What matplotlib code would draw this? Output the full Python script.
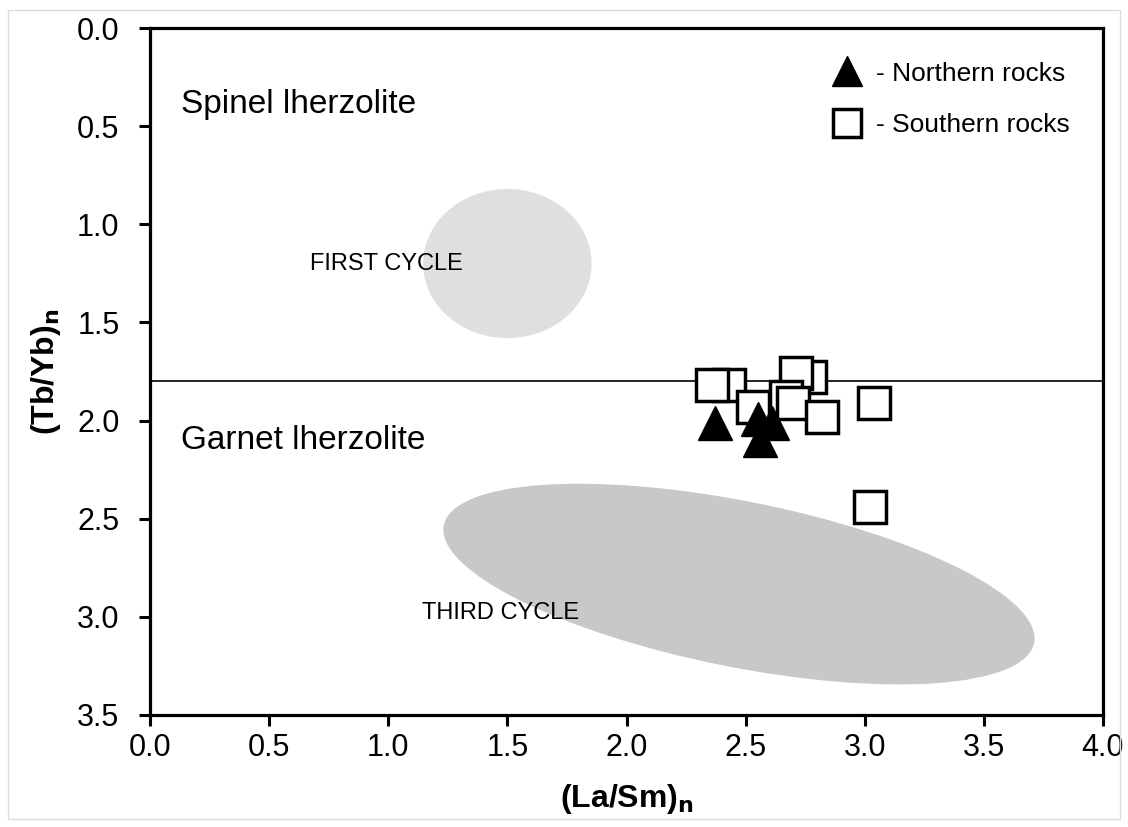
import matplotlib.pyplot as plt
from matplotlib.patches import Ellipse, Rectangle
from matplotlib.transforms import Affine2D

plt.rcParams['font.family'] = ['Liberation Sans', 'DejaVu Sans']

# data
north_x = [2.37, 2.55, 2.61, 2.56]
north_y = [2.01, 1.99, 2.01, 2.10]

south_x = [2.43, 2.36, 2.77, 2.71, 2.53, 2.67, 2.70, 2.82, 3.04, 3.02]
south_y = [1.82, 1.82, 1.78, 1.76, 1.93, 1.88, 1.91, 1.98, 1.91, 2.44]

boundary_y = 1.8
xticks = [0.0, 0.5, 1.0, 1.5, 2.0, 2.5, 3.0, 3.5, 4.0]
yticks = [0.0, 0.5, 1.0, 1.5, 2.0, 2.5, 3.0, 3.5]

fig = plt.figure(figsize=(11.28, 8.27), dpi=100)
ax = fig.add_axes([150 / 1128, 1 - 715 / 827, 953 / 1128, 687 / 827])

# light grey frame round the whole figure
fig.patches.append(Rectangle((8 / 1128, 8 / 827), 1112 / 1128, 809 / 827,
                             transform=fig.transFigure, fill=False,
                             edgecolor='#dcdcdc', lw=1))

ax.set_xlim(0, 4)
ax.set_ylim(3.5, 0)

# first cycle field
ax.add_patch(Ellipse((1.50, 1.20), 0.707, 0.76, facecolor='#dfdfdf',
                     edgecolor='none', zorder=1))
# third cycle field, tilted (shape set in pixels, then to data units)
px_x, px_y = 238.25, 196.6
tr = (Affine2D().scale(301, 83).rotate_deg(11.3).scale(1 / px_x, 1 / px_y)
      .translate(2.472, 2.833) + ax.transData)
ax.add_patch(Ellipse((0, 0), 2, 2, transform=tr, facecolor='#c8c8c8',
                     edgecolor='none', zorder=1))

ax.axhline(boundary_y, color='black', lw=1.2, zorder=2)

ax.plot(north_x, north_y, '^', ms=25, color='black', mec='black',
        label='- Northern rocks', zorder=4)
ax.plot(south_x, south_y, 's', ms=23, mfc='white', mec='black', mew=2.5,
        label='- Southern rocks', zorder=3)

ax.text(0.13, 0.39, 'Spinel lherzolite', fontsize=24, va='center')
ax.text(0.13, 2.10, 'Garnet lherzolite', fontsize=24, va='center')
ax.text(0.67, 1.20, 'FIRST CYCLE', fontsize=17, va='center')
ax.text(1.14, 2.98, 'THIRD CYCLE', fontsize=17, va='center')

ax.set_xticks(xticks)
ax.set_yticks(yticks)
ax.set_xticklabels([f'{v:.1f}' for v in xticks])
ax.set_yticklabels([f'{v:.1f}' for v in yticks])
ax.tick_params(labelsize=22, length=8, width=2.2, direction='out')
ax.tick_params(axis='y', pad=14)
ax.tick_params(axis='x', pad=5)
for s in ax.spines.values():
    s.set_linewidth(2.3)

ax.set_xlabel(r'(La/Sm)$_\mathbf{n}$', fontsize=23, fontweight='bold',
              labelpad=14)
ax.set_ylabel(r'(Tb/Yb)$_\mathbf{n}$', fontsize=23, fontweight='bold',
              labelpad=10)

ax.legend(loc='upper right', frameon=False, fontsize=19, handletextpad=0.1,
          borderaxespad=0.3, labelspacing=1.05, markerscale=0.85,
          bbox_to_anchor=(0.985, 0.978))

fig.savefig('out.png', dpi=100)
